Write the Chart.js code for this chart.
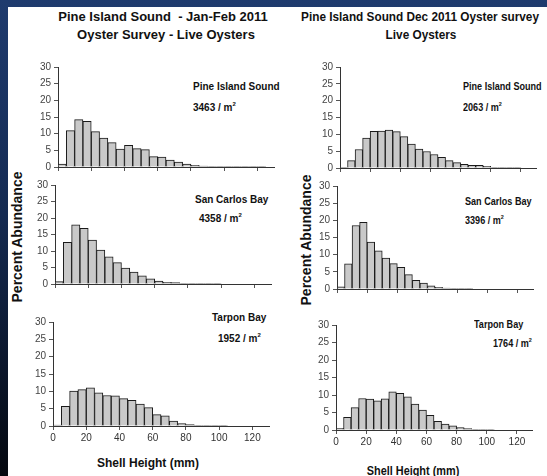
<!DOCTYPE html>
<html>
<head>
<meta charset="utf-8">
<script src="https://cdn.jsdelivr.net/npm/chart.js@4.4.1/dist/chart.umd.min.js"></script>
<style>
html, body { margin:0; padding:0; }
body {
    width:547px; height:476px; position:relative; overflow:hidden;
    background: linear-gradient(to bottom, #1f3b6e 0%, #142a52 45%, #05080f 100%);
    font-family: "Liberation Sans", Arial, sans-serif;
}
#folha { position:absolute; left:8px; top:7px; right:0; bottom:0; background:#fff; }
canvas { position:absolute; }
.txt { position:absolute; white-space:nowrap; color:#111; line-height:14px; }
.tit { font-weight:bold; font-size:13px; transform:translateX(-50%); }
.tit.dir { transform:translateX(-50%) scaleX(0.907); }
.ann { font-weight:bold; font-size:10px; transform-origin:left center; }
.ann.dir { transform:scaleX(0.907); }
.ann sup { font-size:6px; line-height:0; vertical-align:5px; }
.eixo { font-weight:bold; font-size:12px; }
.vert { font-weight:bold; font-size:14px; transform:translate(-50%,-50%) rotate(-90deg); }
</style>
</head>
<body>
<div id="folha"></div>

<div class="txt tit" style="left:163px; top:10px;">Pine Island Sound&nbsp; - Jan-Feb 2011</div>
<div class="txt tit" style="left:166px; top:28px;">Oyster Survey - Live Oysters</div>
<div class="txt tit dir" style="left:420px; top:10px;">Pine Island Sound Dec 2011 Oyster survey</div>
<div class="txt tit dir" style="left:421px; top:28px;">Live Oysters</div>

<div class="txt ann" style="left:193px; top:80px;">Pine Island Sound</div>
<div class="txt ann" style="left:193px; top:101px;">3463 / m<sup>2</sup></div>
<div class="txt ann" style="left:195px; top:193px;">San Carlos Bay</div>
<div class="txt ann" style="left:199px; top:212px;">4358 / m<sup>2</sup></div>
<div class="txt ann" style="left:212px; top:311px;">Tarpon Bay</div>
<div class="txt ann" style="left:218px; top:332px;">1952 / m<sup>2</sup></div>

<div class="txt ann dir" style="left:463px; top:80px;">Pine Island Sound</div>
<div class="txt ann dir" style="left:463px; top:101px;">2063 / m<sup>2</sup></div>
<div class="txt ann dir" style="left:465px; top:195px;">San Carlos Bay</div>
<div class="txt ann dir" style="left:465px; top:214px;">3396 / m<sup>2</sup></div>
<div class="txt ann dir" style="left:474px; top:318px;">Tarpon Bay</div>
<div class="txt ann dir" style="left:493px; top:337px;">1764 / m<sup>2</sup></div>

<div class="txt vert" style="left:17px; top:237px;">Percent Abundance</div>
<div class="txt vert" style="left:306px; top:240px;">Percent Abundance</div>
<div class="txt eixo" style="left:148px; top:456px; transform:translateX(-50%);">Shell Height (mm)</div>
<div class="txt eixo" style="left:413px; top:464px; transform:translateX(-50%) scaleX(0.907);">Shell Height (mm)</div>

<script>
// classes de altura (mm) - centro de cada classe de 5 mm
const classesAltura = [2.5, 7.5, 12.5, 17.5, 22.5, 27.5, 32.5, 37.5, 42.5, 47.5, 52.5, 57.5, 62.5,
                       67.5, 72.5, 77.5, 82.5, 87.5, 92.5, 97.5, 102.5, 107.5, 112.5, 117.5, 122.5, 127.5];
const ticksX = [0, 20, 40, 60, 80, 100, 120];
const ticksY = [0, 5, 10, 15, 20, 25, 30];

// Jan-Fev 2011 (% abundancia)
const janPineIsland = [0.9, 10.9, 14.2, 13.7, 10.6, 8.7, 7.3, 5.4, 6.5, 5.5, 5.2, 3.1, 3.0,
                       2.1, 1.5, 0.9, 0.5, 0.3, 0.2, 0.1, 0.1, 0.1, 0.05, 0.05, 0.05, 0];
const janSanCarlos   = [0.7, 12.6, 17.9, 16.9, 13.3, 10.3, 8.2, 6.5, 4.8, 3.6, 2.5, 1.6, 0.9,
                       0.5, 0.4, 0.2, 0.1, 0.1, 0.05, 0.05, 0, 0, 0, 0, 0, 0];
const janTarpon      = [0.3, 5.7, 10.1, 10.5, 11.0, 9.6, 8.8, 8.7, 7.9, 7.4, 6.3, 5.3, 3.3,
                       2.9, 1.4, 0.7, 0.4, 0.2, 0.1, 0.05, 0.05, 0, 0, 0, 0, 0];

// Dez 2011 (% abundancia)
const dezPineIsland = [0.1, 2.2, 5.5, 8.9, 10.9, 11.0, 11.3, 10.8, 9.3, 7.1, 5.6, 4.9, 4.0,
                       3.2, 2.2, 1.6, 1.1, 0.8, 0.8, 0.5, 0.2, 0.1, 0.1, 0.05, 0, 0];
const dezSanCarlos   = [0.6, 7.3, 18.5, 19.4, 13.7, 11.1, 9.0, 7.4, 6.3, 4.2, 2.5, 1.7, 0.9,
                       0.5, 0.3, 0.2, 0.1, 0.05, 0, 0, 0, 0, 0, 0, 0, 0];
const dezTarpon      = [0.5, 3.6, 6.4, 9.0, 8.8, 8.3, 8.9, 10.9, 10.5, 9.5, 7.4, 5.7, 4.2,
                       2.5, 1.7, 1.2, 0.7, 0.4, 0.1, 0.05, 0.05, 0, 0, 0, 0, 0];

// posicao da area de cada grafico: x0 = 0 mm, x1 = 130 mm, y30 = topo (30%), y0 = base
const paineis = [
    { valores: janPineIsland, x0: 58,  x1: 274, y30: 66,  y0: 170, rotulos: false },
    { valores: janSanCarlos,  x0: 55,  x1: 271, y30: 184, y0: 287, rotulos: false },
    { valores: janTarpon,     x0: 53,  x1: 269, y30: 321, y0: 426, rotulos: true  },
    { valores: dezPineIsland, x0: 340, x1: 536, y30: 66,  y0: 171, rotulos: false },
    { valores: dezSanCarlos,  x0: 337, x1: 533, y30: 185, y0: 292, rotulos: false },
    { valores: dezTarpon,     x0: 336, x1: 532, y30: 324, y0: 430, rotulos: true  }
];

const larguraY = 30, folgaTopo = 8, folgaDir = 6;

paineis.forEach(p => {
    const alturaX = p.rotulos ? 24 : 6;
    const cv = document.createElement('canvas');
    const w = (p.x1 - p.x0) + larguraY + folgaDir;
    const h = (p.y0 - p.y30) + folgaTopo + alturaX;
    cv.width = w; cv.height = h;
    cv.style.left = (p.x0 - larguraY) + 'px';
    cv.style.top = (p.y30 - folgaTopo) + 'px';
    cv.style.width = w + 'px'; cv.style.height = h + 'px';
    document.body.appendChild(cv);

    new Chart(cv.getContext('2d'), {
        type: 'bar',
        data: {
            datasets: [{
                data: classesAltura.map((x, i) => ({ x: x, y: p.valores[i] })),
                backgroundColor: '#c9c9c9',
                borderColor: '#1a1a1a',
                borderWidth: 1,
                barPercentage: 1,
                categoryPercentage: 1
            }]
        },
        options: {
            responsive: false, animation: false, devicePixelRatio: 1,
            layout: { padding: { top: folgaTopo, right: folgaDir, left: 0, bottom: 0 } },
            plugins: { legend: { display: false }, tooltip: { enabled: false } },
            scales: {
                x: {
                    type: 'linear', min: 0, max: 130, offset: false,
                    afterBuildTicks: s => { s.ticks = ticksX.map(v => ({ value: v })); },
                    afterFit: s => { s.height = alturaX; },
                    ticks: { display: p.rotulos, font: { family: 'Liberation Sans', size: 10 }, color: '#333', padding: 2, maxRotation: 0, autoSkip: false },
                    grid: { drawOnChartArea: false, offset: false, tickLength: 4, color: '#555' },
                    border: { color: '#333', width: 1 }
                },
                y: {
                    min: 0, max: 30,
                    afterBuildTicks: s => { s.ticks = ticksY.map(v => ({ value: v })); },
                    afterFit: s => { s.width = larguraY; },
                    ticks: { font: { family: 'Liberation Sans', size: 10 }, color: '#444', padding: 3 },
                    grid: { drawOnChartArea: false, tickLength: 4, color: '#555' },
                    border: { color: '#333', width: 1 }
                }
            }
        }
    });
});
</script>
</body>
</html>
